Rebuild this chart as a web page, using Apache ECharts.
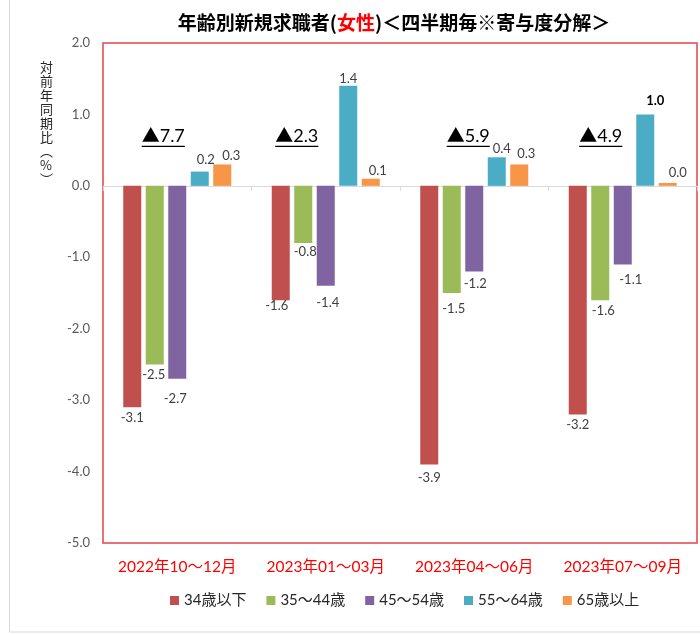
<!DOCTYPE html>
<html>
<head>
<meta charset="utf-8">
<title>年齢別新規求職者（女性）</title>
<script src="https://cdn.jsdelivr.net/npm/echarts@6/dist/echarts.min.js"></script>
<style>
  html, body { margin: 0; padding: 0; background: #ffffff; }
  #chart { width: 700px; height: 634px; }
</style>
</head>
<body>
<div id="chart"></div>
<script>
// Quarters on the category axis
const quarters = ['2022年10～12月', '2023年01～03月', '2023年04～06月', '2023年07～09月'];

// Age bands (series names)
const ageBands = ['34歳以下', '35～44歳', '45～54歳', '55～64歳', '65歳以上'];

// Contribution of each age band to the year-on-year change (%)
const under34 = [-3.1, -1.6, -3.9, -3.2];
const age35to44 = [-2.5, -0.8, -1.5, -1.6];
const age45to54 = [-2.7, -1.4, -1.2, -1.1];
const age55to64 = [0.2, 1.4, 0.4, 1.0];
const over65 = [0.3, 0.1, 0.3, 0.04];

// Total change per quarter (shown as ▲ = decrease)
const totalDecrease = [7.7, 2.3, 5.9, 4.9];

// Value-axis tick settings
const yMin = -5, yMax = 2, yStep = 1;

const seriesValues = [under34, age35to44, age45to54, age55to64, over65];
const barColors = ['#c0504d', '#9bbb59', '#8064a2', '#4bacc6', '#f79646'];

// Hand-placed label nudges [dx, dy] per series / quarter
const labelNudge = [
  [[0, 0], [-4, -5], [0, 3], [0, 0]],
  [[-1, 0], [2, -2], [2, 5], [3, 0]],
  [[-2, 10], [2, 6], [1, 2], [8, 5]],
  [[6, -1], [0, 3], [5, 2], [10, -3]],
  [[9, 2], [7, 3], [7, 0], [10, 0]]
];
// Horizontal shift of the ▲ total callouts from each group's centre
const calloutShift = [-14, -29, -6, -22];

const numFont = 'Lato, "Noto Sans CJK JP", sans-serif';
const cjkFont = '"Noto Sans CJK JP", sans-serif';

const measureCtx = document.createElement('canvas').getContext('2d');
function textWidth(txt, font) {
  measureCtx.font = font;
  return measureCtx.measureText(txt).width;
}

const chart = echarts.init(document.getElementById('chart'), null, { renderer: 'canvas' });

const barSeries = ageBands.map((name, s) => ({
  name: name,
  type: 'bar',
  xAxisIndex: 0,
  barWidth: 18,
  barGap: '25%',
  itemStyle: { color: barColors[s] },
  data: seriesValues[s].map((v, q) => ({
    value: v,
    label: {
      show: true,
      position: v < 0 ? 'bottom' : 'top',
      distance: 4,
      offset: labelNudge[s][q],
      fontWeight: (s === 3 && q === 3) ? 'bold' : 'normal',
      color: (s === 3 && q === 3) ? '#000000' : '#404040'
    }
  })),
  label: {
    show: true,
    fontFamily: numFont,
    fontSize: 13,
    formatter: p => p.value.toFixed(1)
  }
}));

// Underlined "▲total" callouts above each quarter group
const calloutSeries = {
  name: 'total',
  type: 'custom',
  xAxisIndex: 0,
  silent: true,
  clip: false,
  z: 10,
  data: totalDecrease.map((t, i) => [i, t]),
  renderItem: (params, api) => {
    const base = api.coord([api.value(0), 0]);
    const cx = base[0] + calloutShift[params.dataIndex];
    const lineY = base[1] - 40;
    const txt = '▲' + api.value(1).toFixed(1);
    const font = '18px ' + numFont;
    const w = textWidth(txt, font);
    return {
      type: 'group',
      children: [
        {
          type: 'text',
          style: {
            text: txt, x: cx, y: lineY - 1,
            align: 'center', verticalAlign: 'bottom',
            font: font, fill: '#000000'
          }
        },
        {
          type: 'line',
          shape: { x1: cx - w / 2, y1: lineY + 0.5, x2: cx + w / 2, y2: lineY + 0.5 },
          style: { stroke: '#000000', lineWidth: 1.2 }
        }
      ]
    };
  }
};

chart.setOption({
  animation: false,
  backgroundColor: '#ffffff',
  textStyle: { fontFamily: cjkFont },
  title: {
    text: '{a|年齢別新規求職者(}{r|女性}{a|)＜四半期毎※寄与度分解＞}',
    left: 389,
    textAlign: 'center',
    top: 8,
    textStyle: {
      rich: {
        a: { fontSize: 19, fontWeight: 'bold', color: '#000000', fontFamily: cjkFont },
        r: { fontSize: 19, fontWeight: 'bold', color: '#ff0000', fontFamily: cjkFont }
      }
    }
  },
  graphic: [
    {
      type: 'rect',
      silent: true,
      shape: { x: 9.5, y: -2, width: 700, height: 634 },
      style: { fill: 'none', stroke: '#d9d9d9', lineWidth: 1 }
    },
    {
      type: 'text',
      left: 40,
      top: 60,
      style: {
        text: '対\n前\n年\n同\n期\n比\n︵\n%\n︶',
        font: '13px ' + cjkFont,
        lineHeight: 14,
        fill: '#262626',
        align: 'center'
      }
    }
  ],
  legend: {
    data: ageBands,
    bottom: 21,
    left: 165,
    icon: 'rect',
    itemWidth: 9,
    itemHeight: 9,
    itemGap: 20,
    textStyle: { fontSize: 15, color: '#262626', fontFamily: numFont }
  },
  grid: {
    left: 103,
    right: 3,
    top: 43,
    bottom: 91,
    show: true,
    borderColor: '#e8424e',
    borderWidth: 1.5,
    containLabel: false
  },
  xAxis: [
    {
      type: 'category',
      data: quarters,
      axisLine: { onZero: true, lineStyle: { color: '#d9d9d9', width: 1 } },
      axisTick: { show: true, length: 5, lineStyle: { color: '#d9d9d9' } },
      axisLabel: { show: false },
      splitLine: { show: false }
    },
    {
      // quarter labels along the bottom edge of the plot
      type: 'category',
      data: quarters,
      position: 'bottom',
      axisLine: { show: false },
      axisTick: { show: false },
      axisLabel: {
        show: true,
        interval: 0,
        color: '#ff0000',
        fontSize: 15.5,
        fontFamily: numFont,
        margin: 16
      },
      splitLine: { show: false }
    }
  ],
  yAxis: {
    type: 'value',
    min: yMin,
    max: yMax,
    interval: yStep,
    axisLine: { show: false },
    axisTick: { show: false },
    splitLine: { show: false },
    axisLabel: {
      color: '#595959',
      fontSize: 13,
      fontFamily: numFont,
      margin: 13,
      formatter: v => v.toFixed(1)
    }
  },
  series: barSeries.concat([calloutSeries])
});
</script>
</body>
</html>
